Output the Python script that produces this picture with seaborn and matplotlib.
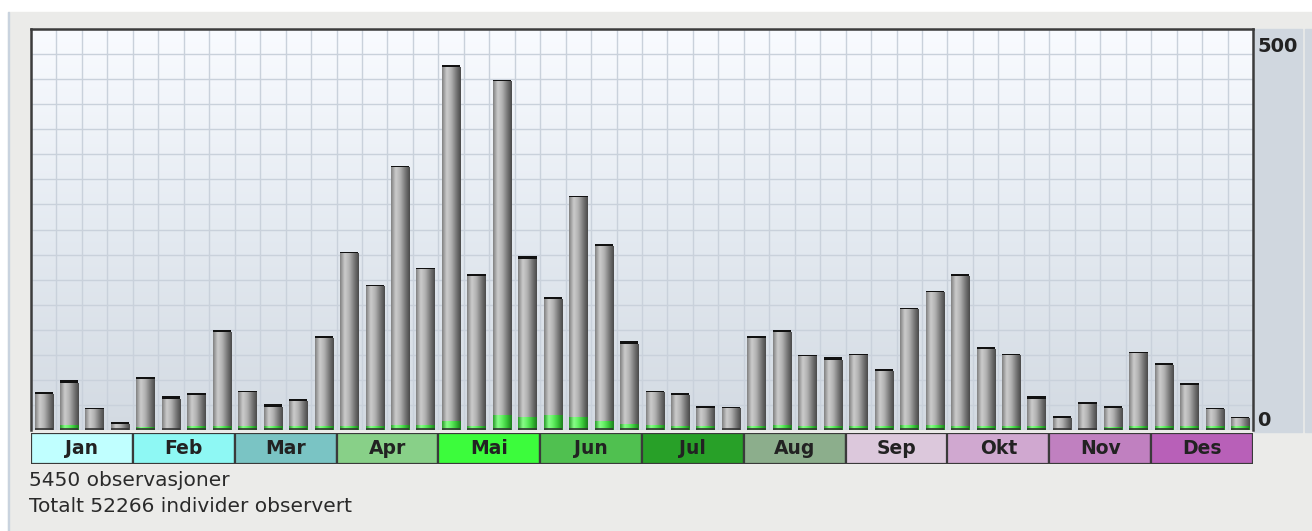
import numpy as np
import pandas as pd
import matplotlib
matplotlib.use("Agg")
import matplotlib.pyplot as plt
import matplotlib.patches as mpatches
from matplotlib.colors import LinearSegmentedColormap
import seaborn as sns

# ============================================================
# Observations per week (4 bars per month) with month strip
# ============================================================

months = ["Jan", "Feb", "Mar", "Apr", "Mai", "Jun",
          "Jul", "Aug", "Sep", "Okt", "Nov", "Des"]
month_colors = ["#c0ffff", "#8ef8f4", "#7ac4c4", "#88d088", "#3cfc3c", "#50c050",
                "#28a028", "#8cae8c", "#dcc8dc", "#d0a8d0", "#c080c0", "#b860b8"]

# total height of each bar (4 per month)
totals = [49, 65, 29, 10,
          69, 44, 48, 130,
          51, 34, 40, 122,
          232, 189, 344, 211,
          475, 203, 456, 227,
          173, 305, 242, 116,
          51, 48, 31, 30,
          122, 130, 98, 95,
          99, 79, 159, 181,
          203, 108, 99, 44,
          18, 36, 31, 102,
          87, 61, 29, 17]
# green part at the bottom of each bar
green = [0, 7, 0, 0,
         4, 0, 5, 5,
         5, 5, 5, 5,
         5, 5, 7, 6,
         12, 5, 20, 17,
         20, 17, 12, 8,
         7, 5, 5, 0,
         5, 7, 5, 5,
         5, 5, 7, 7,
         5, 5, 5, 5,
         0, 0, 4, 5,
         5, 5, 5, 5]
# black cap on top of each bar
cap = [2, 4, 2, 2,
       2, 4, 2, 2,
       2, 4, 2, 2,
       2, 2, 2, 2,
       2, 2, 2, 4,
       2, 2, 2, 4,
       2, 2, 2, 2,
       2, 2, 2, 4,
       2, 2, 2, 2,
       2, 2, 2, 4,
       2, 2, 2, 2,
       2, 2, 2, 2]

n_obs = 5450
n_ind = 52266
ymax = 522

W, H = 1312, 531

df = pd.DataFrame({"bar": np.arange(len(totals)),
                   "total": totals,
                   "green": green,
                   "cap": cap})
df["gray"] = df["total"] - df["cap"]

gray_cmap = LinearSegmentedColormap.from_list(
    "gray_cyl", ["#808080", "#cdcdcd", "#b0b0b0", "#7a7a7a", "#4a4a4a"])
green_cmap = LinearSegmentedColormap.from_list(
    "green_cyl", ["#2a9a2a", "#8aff8a", "#60ee60", "#36c236", "#1e7e1e"])
bg_cmap = LinearSegmentedColormap.from_list(
    "bg", ["#d3dae2", "#e4eaf1", "#f9fbff"])


def shade_bars(ax, patches, cmap, z):
    """Replace flat bar faces by a horizontal (cylinder) gradient."""
    grad = np.linspace(0, 1, 64).reshape(1, -1)
    for p in patches:
        x0, y0 = p.get_x(), p.get_y()
        w, h = p.get_width(), p.get_height()
        if h <= 0:
            continue
        im = ax.imshow(grad, cmap=cmap, aspect="auto",
                       extent=(x0, x0 + w, y0, y0 + h),
                       zorder=z, interpolation="bicubic")
        im.set_clip_path(p)
        p.set_facecolor("none")


def main():
    sns.set_style("white")
    fig = plt.figure(figsize=(W / 100, H / 100), dpi=100, facecolor="white")

    # page background
    bg = [
        ((8 / W, 0), 1, (H - 12) / H, "#ebebe9"),
        ((7.5 / W, 0), 1.5 / W, (H - 12) / H, "#c9d3de"),
        ((1254 / W, (H - 432) / H), 48 / W, 403 / H, "#d0d7df"),
        ((1305 / W, (H - 432) / H), 7 / W, 403 / H, "#d0d7df"),
    ]
    for xy, w, h, c in bg:
        fig.patches.append(mpatches.Rectangle(xy, w, h, transform=fig.transFigure,
                                              color=c, zorder=-5))

    ax = fig.add_axes([31 / W, (H - 430) / H, 1222 / W, 401 / H])

    # background gradient
    ax.imshow(np.linspace(0, 1, 256).reshape(-1, 1)[::-1], cmap=bg_cmap,
              aspect="auto", extent=(-0.5, len(totals) - 0.5, 0, ymax),
              zorder=0)

    # black caps (full bar), gray body, green bottom
    sns.barplot(data=df, x="bar", y="total", color="#111111", width=0.72,
                linewidth=0, ax=ax, zorder=2, native_scale=True, saturation=1)
    n0 = len(ax.patches)
    sns.barplot(data=df, x="bar", y="gray", color="#999999", width=0.72,
                linewidth=0, ax=ax, zorder=3, native_scale=True, saturation=1)
    gray_patches = ax.patches[n0:]
    n1 = len(ax.patches)
    sns.barplot(data=df, x="bar", y="green", color="#44dd44", width=0.72,
                linewidth=0, ax=ax, zorder=4, native_scale=True, saturation=1)
    green_patches = ax.patches[n1:]

    shade_bars(ax, gray_patches, gray_cmap, 3)
    shade_bars(ax, green_patches, green_cmap, 4)

    # thin dark base line under each bar
    ax.hlines([1] * len(totals), df["bar"] - 0.36, df["bar"] + 0.36,
              color="#333333", linewidth=1.2, zorder=5)

    ax.set_xlim(-0.5, len(totals) - 0.5)
    ax.set_ylim(0, ymax)
    ax.set_xticks(np.arange(-0.5, len(totals), 1))
    ax.set_yticks(np.linspace(0, ymax, 17))
    ax.grid(True, color="#c9d1db", linewidth=1.0, zorder=1)
    ax.set_axisbelow(True)
    ax.tick_params(length=0, labelleft=False, labelbottom=False)
    ax.set_xlabel("")
    ax.set_ylabel("")
    for side in ["top", "left", "right"]:
        ax.spines[side].set_color("#3c3c3c")
        ax.spines[side].set_linewidth(1.8)
    ax.spines["bottom"].set_visible(False)

    # month strip
    axm = fig.add_axes([31 / W, (H - 464) / H, 1222 / W, 31 / H])
    mdf = pd.DataFrame({"month": months, "h": [1] * 12})
    sns.barplot(data=mdf, x="month", y="h", hue="month", palette=month_colors,
                width=1.0, edgecolor="#3a3a3a", linewidth=1.6, legend=False,
                saturation=1, ax=axm)
    for i, m in enumerate(months):
        axm.text(i, 0.5, m, ha="center", va="center", fontsize=13.5,
                 fontweight="bold", color="#222222", family="DejaVu Sans")
    axm.set_xlim(-0.5, 11.5)
    axm.set_ylim(0, 1)
    axm.axis("off")

    # value labels on the right strip
    fig.text(1257 / W, (H - 46) / H, "500", ha="left", va="center",
             fontsize=14, fontweight="bold", color="#222222")
    fig.text(1257 / W, (H - 420) / H, "0", ha="left", va="center",
             fontsize=14, fontweight="bold", color="#222222")

    # footer text
    fig.text(29 / W, (H - 481) / H, f"{n_obs} observasjoner", ha="left",
             va="center", fontsize=14.5, color="#2a2a2a")
    fig.text(29 / W, (H - 507) / H, f"Totalt {n_ind} individer observert",
             ha="left", va="center", fontsize=14.5, color="#2a2a2a")

    fig.savefig("out.png", dpi=100, facecolor=fig.get_facecolor())


if __name__ == "__main__":
    main()
